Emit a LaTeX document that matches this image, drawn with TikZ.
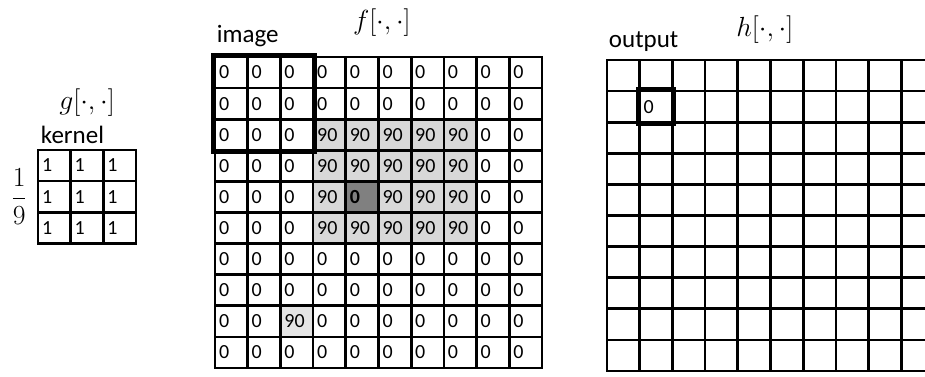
\documentclass[tikz,border=0pt]{standalone}
\usepackage[no-math]{fontspec}
\setmainfont{Carlito}
\usepackage{tikz}
\usetikzlibrary{positioning,backgrounds,calc}
\definecolor{blockgray}{RGB}{216, 216, 216}
\definecolor{centergray}{RGB}{128, 128, 128}
\definecolor{fadegray}{RGB}{228, 228, 228}

\begin{document}
\begin{tikzpicture}[
    x=0.75pt, y=-0.75pt,
    cell/.style={rectangle, draw=black, line width=2pt, inner xsep=3pt, inner ysep=0pt, text width=18.5pt, minimum height=23.3pt, align=left, font=\fontsize{15}{18}\selectfont},
    window/.style={draw=black, line width=3.8pt},
    lbl/.style={inner sep=0pt, font=\fontsize{18.75}{22}\selectfont},
    mlbl/.style={inner sep=1pt, font=\huge}
]
    \useasboundingbox (0,0) rectangle (925,377);
    \clip (0,0) rectangle (925,377);

    % kernel g
    \foreach \r in {0,1,2}
        \foreach \c in {0,1,2}
            \node[cell] (k-\r-\c) at ({38+32.7*\c+16.35},{150+31.1*\r+15.55}) {1};

    % image f
    \foreach \vals [count=\r from 0] in {
        {0,0,0,0,0,0,0,0,0,0},
        {0,0,0,0,0,0,0,0,0,0},
        {0,0,0,90,90,90,90,90,0,0},
        {0,0,0,90,90,90,90,90,0,0},
        {0,0,0,90,{\textbf{0}},90,90,90,0,0},
        {0,0,0,90,90,90,90,90,0,0},
        {0,0,0,0,0,0,0,0,0,0},
        {0,0,0,0,0,0,0,0,0,0},
        {0,0,90,0,0,0,0,0,0,0},
        {0,0,0,0,0,0,0,0,0,0}}
        \foreach \v [count=\c from 0] in \vals
            \node[cell] (f-\r-\c) at ({215+32.7*\c+16.35},{57+31.1*\r+15.55}) {\v};

    % output h
    \foreach \r in {0,...,9}
        \foreach \c in {0,...,9}
            \node[cell] (h-\r-\c) at ({607+32.7*\c+16.35},{60+31.1*\r+15.55}) {\ifnum\r=1 \ifnum\c=1 0\fi\fi};

    \begin{scope}[on background layer]
        \fill[blockgray] (f-2-3.north west) rectangle (f-5-7.south east);
        \fill[centergray] (f-4-4.north west) rectangle (f-4-4.south east);
        \fill[fadegray] (f-8-2.north west) rectangle (f-8-2.south east);
    \end{scope}

    \draw[window] (f-0-0.north west) rectangle (f-2-2.south east);
    \draw[window] (h-1-1.north west) rectangle (h-1-1.south east);

    \node[lbl, anchor=base west] (kernel) at ([shift={(4,-5)}]k-0-0.north west) {kernel};
    \node[mlbl] (glbl) at ([shift={(0,-46)}]k-0-1.north) {$g[\cdot,\cdot]$};
    \node[mlbl, left=6pt of k-1-0.west] (norm) {$\displaystyle\frac{1}{9}$};

    \node[lbl, anchor=base west] (image) at ([shift={(3,-13)}]f-0-0.north west) {image};
    \node[mlbl] (flbl) at ([shift={(2,-33)}]f-0-4.north east) {$f[\cdot,\cdot]$};

    \node[lbl, anchor=base west] (output) at ([shift={(3,-11)}]h-0-0.north west) {output};
    \node[mlbl] (hlbl) at ([shift={(-7,-29)}]h-0-4.north east) {$h[\cdot,\cdot]$};
\end{tikzpicture}
\end{document}
